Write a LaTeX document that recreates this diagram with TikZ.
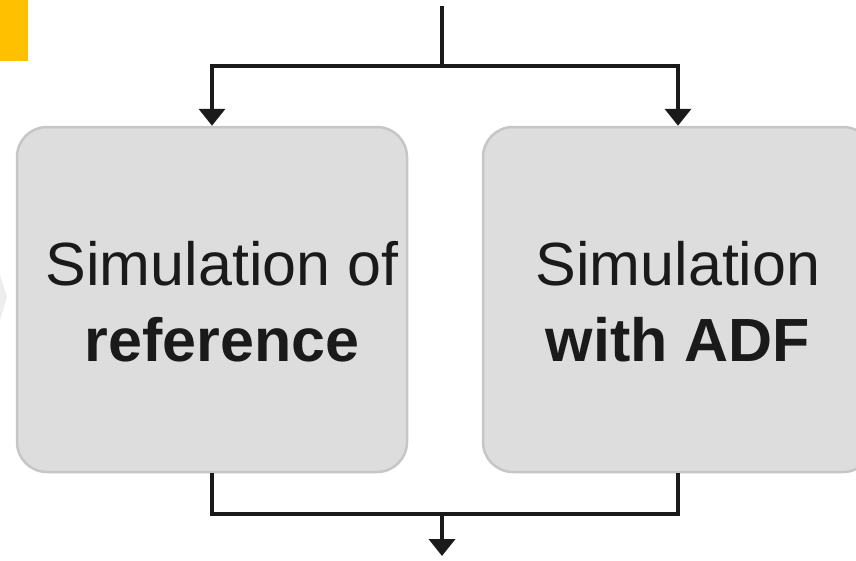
\documentclass[tikz,border=0pt]{standalone}
\usepackage{fontspec}
\setmainfont{Liberation Sans}
\usetikzlibrary{arrows.meta}
\definecolor{boxfill}{HTML}{DDDDDD}
\definecolor{boxline}{HTML}{C6C6C6}
\definecolor{wire}{HTML}{1A1A1A}
\definecolor{accent}{HTML}{FFC000}
\definecolor{chevron}{HTML}{EDEDED}
\begin{document}
\begin{tikzpicture}[x=1pt,y=-1pt,
  simbox/.style={draw=boxline, line width=2.5pt, fill=boxfill, rounded corners=30pt,
    minimum width=390pt, minimum height=345pt, inner sep=0pt},
  simtext/.style={align=center, text=wire, inner sep=0pt,
    font=\fontsize{61}{76}\selectfont},
  wireline/.style={draw=wire, line width=4pt},
  wirearrow/.style={wireline, -{Triangle[width=26pt,length=17pt]}}]
\useasboundingbox (0,0) rectangle (856,560);
\clip (0,0) rectangle (856,560);

% corner tab and faint chevron at the left edge
\fill[accent] (0,0) rectangle (28,61);
\fill[chevron] (0,275) -- (7,297) -- (0,320) -- cycle;

% the two simulation boxes
\node[simbox] (L) at (212,299.5) {};
\node[simbox] (R) at (678,299.5) {};
\node[simtext] (Ltext) at ([xshift=10pt,yshift=-2pt]L.center) {Simulation of\\\textbf{reference}};
\node[simtext] (Rtext) at ([yshift=-2pt]R.center) {Simulation\\\textbf{with ADF}};

% incoming flow splitting into both boxes
\coordinate (top) at (442,6);
\coordinate (split) at (442,66);
\draw[wireline] (top) -- (split);
\draw[wirearrow] (split) -| (L.north);
\draw[wirearrow] (split) -| (R.north);

% outgoing flow joining below the boxes
\coordinate (join) at (442,514);
\coordinate (out) at (442,556);
\draw[wireline] (L.south) |- (join) -| (R.south);
\draw[wirearrow] (join) -- (out);
\end{tikzpicture}
\end{document}
